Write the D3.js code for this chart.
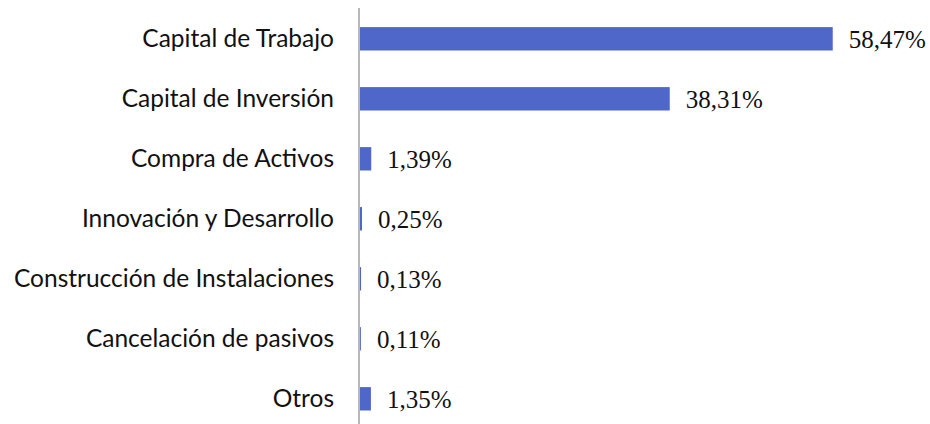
<!DOCTYPE html>
<html>
<head>
<meta charset="utf-8">
<script src="https://d3js.org/d3.v7.min.js"></script>
<style>
body { margin: 0; background: #fff; }
</style>
</head>
<body>
<svg id="svg"></svg>
<script>
const categories = ["Capital de Trabajo", "Capital de Inversión", "Compra de Activos",
  "Innovación y Desarrollo", "Construcción de Instalaciones", "Cancelación de pasivos", "Otros"];
const values = [58.47, 38.31, 1.39, 0.25, 0.13, 0.11, 1.35];
const valueLabels = ["58,47%", "38,31%", "1,39%", "0,25%", "0,13%", "0,11%", "1,35%"];

const width = 930, height = 424;
const svg = d3.select("#svg").attr("width", width).attr("height", height);

const x = d3.scaleLinear().domain([0, 60]).range([360, 360 + 60 * 8.085]);
const y = d3.scaleBand().domain(categories).range([8.8, 428.8]).paddingInner(0.61).paddingOuter(0.305);

const data = categories.map((c, i) => ({ c, v: values[i], lab: valueLabels[i] }));

svg.selectAll("rect.bar")
  .data(data)
  .enter().append("rect")
  .attr("class", "bar")
  .attr("x", x(0))
  .attr("y", d => y(d.c))
  .attr("width", d => x(d.v) - x(0))
  .attr("height", y.bandwidth())
  .attr("fill", "#4F67C8");

// category labels
svg.selectAll("text.cat")
  .data(data)
  .enter().append("text")
  .attr("class", "cat")
  .attr("x", 334)
  .attr("y", d => y(d.c) + y.bandwidth() / 2)
  .attr("dy", "0.35em")
  .attr("text-anchor", "end")
  .style("font-family", "Lato, 'Open Sans', sans-serif")
  .style("font-size", "24.5px")
  .attr("fill", "#111")
  .text(d => d.c);

// value labels
svg.selectAll("text.val")
  .data(data)
  .enter().append("text")
  .attr("class", "val")
  .attr("x", d => x(d.v) + 16)
  .attr("y", d => y(d.c) + y.bandwidth() / 2)
  .attr("dy", "0.35em")
  .style("font-family", "'Liberation Serif', 'DejaVu Serif', serif")
  .style("font-size", "25px")
  .attr("fill", "#111")
  .text(d => d.lab);

// axis line
svg.append("line")
  .attr("x1", 359).attr("x2", 359)
  .attr("y1", 8).attr("y2", height)
  .attr("stroke", "#A0A0A0")
  .attr("stroke-width", 1.5);
</script>
</body>
</html>
